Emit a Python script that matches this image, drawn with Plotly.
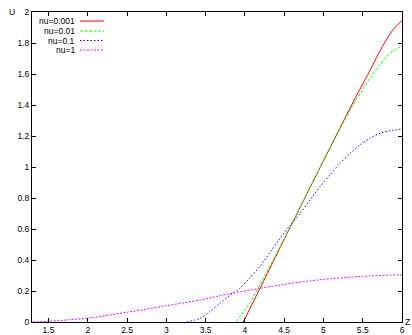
import plotly.graph_objects as go

# ---- data ----
z_red = [3.98, 4.2, 4.6, 5.0, 5.4, 5.6, 5.7, 5.8, 5.9, 6.0]
u_red = [0.0, 0.225, 0.635, 1.04, 1.44, 1.63, 1.73, 1.82, 1.895, 1.945]

z_green = [3.89, 4.0, 4.06, 4.2, 4.4, 4.6, 5.0, 5.3, 5.4, 5.5, 5.6, 5.7, 5.8, 5.9, 6.0]
u_green = [0.0, 0.08, 0.12, 0.25, 0.44, 0.635, 1.04, 1.33, 1.42, 1.50, 1.58, 1.65, 1.71, 1.755, 1.78]

z_blue = [3.26, 3.43, 3.55, 3.68, 3.81, 3.94, 4.06, 4.19, 4.32, 4.45, 4.57, 4.7,
          4.83, 4.955, 5.08, 5.21, 5.34, 5.46, 5.59, 5.72, 5.85, 6.0]
u_blue = [0.0, 0.024, 0.066, 0.12, 0.172, 0.22, 0.285, 0.357, 0.45, 0.54, 0.62, 0.70,
          0.787, 0.873, 0.948, 1.024, 1.088, 1.14, 1.185, 1.217, 1.234, 1.245]

z_mag = [1.3, 1.5, 2.0, 2.5, 3.0, 3.43, 3.81, 4.19, 4.5, 4.83, 5.0, 5.5, 6.0]
u_mag = [0.0, 0.005, 0.025, 0.063, 0.105, 0.142, 0.183, 0.217, 0.243, 0.265, 0.275, 0.295, 0.305]

names = ["nu=0.001", "nu=0.01", "nu=0.1", "nu=1"]
colors = ["#ff0000", "#00ff00", "#0000ff", "#ff00ff"]
dashes = ["solid", "3px,1.5px", "1.5px,2px", "2px,1.5px"]

x_ticks = [1.5, 2, 2.5, 3, 3.5, 4, 4.5, 5, 5.5, 6]
y_ticks = [0, 0.2, 0.4, 0.6, 0.8, 1, 1.2, 1.4, 1.6, 1.8, 2]

series = [(z_red, u_red), (z_green, u_green), (z_blue, u_blue), (z_mag, u_mag)]

FONT = "Liberation Sans, Arial, sans-serif"
W, H = 412, 335
L, R, T, B = 32, 10, 12, 13

fig = go.Figure()
for (zx, uy), n, c, d in zip(series, names, colors, dashes):
    fig.add_trace(go.Scatter(x=zx, y=uy, mode="lines", name=n,
                             line=dict(color=c, width=1, dash=d, shape="spline",
                                       smoothing=0.8),
                             showlegend=False, hoverinfo="skip"))

pw, ph = W - L - R, H - T - B
def px_x(p):
    return (p - L) / pw
def px_y(p):
    return (H - B - p) / ph

# gnuplot-style key: text right-aligned, sample line to the right
key_y = [21, 31, 40.5, 50]
for n, c, d, ky in zip(names, colors, dashes, key_y):
    fig.add_annotation(xref="paper", yref="paper", x=px_x(77), y=px_y(ky),
                       text=n, showarrow=False, xanchor="right", yanchor="middle",
                       font=dict(size=8.5, color="black", family=FONT))
    fig.add_shape(type="line", xref="paper", yref="paper",
                  x0=px_x(80), x1=px_x(104), y0=px_y(ky), y1=px_y(ky),
                  line=dict(color=c, width=1, dash=d))

fig.add_annotation(xref="paper", yref="paper", x=px_x(12), y=px_y(12), text="U",
                   showarrow=False, xanchor="center", yanchor="middle",
                   font=dict(size=8.5, color="black", family=FONT))
fig.add_annotation(xref="paper", yref="paper", x=px_x(407), y=px_y(322), text="Z",
                   showarrow=False, xanchor="center", yanchor="middle",
                   font=dict(size=8.5, color="black", family=FONT))

axis_common = dict(showgrid=False, zeroline=False, showline=True, linecolor="black",
                   linewidth=1, mirror="ticks", ticks="inside", ticklen=4,
                   tickcolor="black", tickwidth=1, automargin=False,
                   tickfont=dict(size=8.5, color="black", family=FONT))

fig.update_layout(
    width=W, height=H,
    margin=dict(l=L, r=R, t=T, b=B, autoexpand=False),
    paper_bgcolor="white", plot_bgcolor="white",
    xaxis=dict(range=[1.29, 6], tickvals=x_ticks,
               ticktext=[f"{v:g}" for v in x_ticks], **axis_common),
    yaxis=dict(range=[0, 2], tickvals=y_ticks,
               ticktext=[f"{v:g}" for v in y_ticks], **axis_common),
)

fig.write_html("out.html",
               config={"displayModeBar": False},
               post_script="document.body.style.margin='0';"
                           "document.body.style.padding='0';"
                           "document.body.style.overflow='hidden';")
